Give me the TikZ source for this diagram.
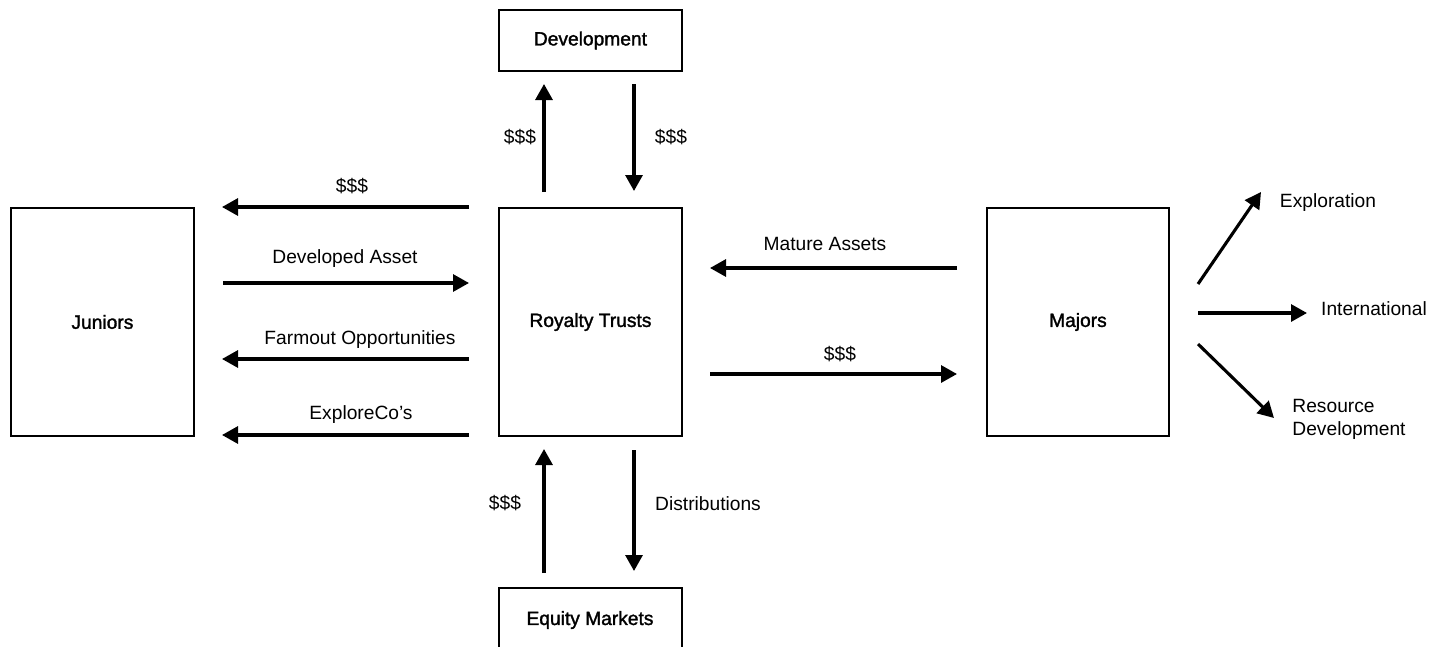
\documentclass[tikz,border=0pt]{standalone}
\usepackage{fontspec}
\setmainfont{Liberation Sans}
\newfontface\boxfont{Liberation Sans}[FakeBold=1.6]
\usetikzlibrary{arrows.meta}
\begin{document}
\begin{tikzpicture}[x=1pt,y=-1pt,
  font=\fontsize{19.2}{23}\selectfont,
  box/.style={draw,line width=1.9pt,inner sep=0pt,anchor=north west},
  blabel/.style={font=\boxfont\fontsize{19.2}{23}\selectfont},
  arr/.style={line width=3.1pt,-{Triangle[length=16pt,width=17pt]}},
  lbl/.style={inner sep=0pt}]
\clip (0,0) rectangle (1432,646);
\useasboundingbox (0,0) rectangle (1432,646);
% boxes
\node[box,minimum width=183pt,minimum height=228pt] (jun) at (10,207) {};
\node[blabel] at (jun.center) {Juniors};
\node[box,minimum width=183pt,minimum height=228pt] (rt) at (498,207) {};
\node[blabel] at (rt.center) {Royalty Trusts};
\node[box,minimum width=182pt,minimum height=228pt] (maj) at (986,207) {};
\node[blabel] at (maj.center) {Majors};
\node[box,minimum width=183pt,minimum height=61pt] (dev) at (498,9) {};
\node[blabel] at (dev.center) {Development};
\node[box,minimum width=183pt,minimum height=80pt] (eq) at (498,587) {};
\node[blabel] at (590,620) {Equity Markets};
% coordinates
\coordinate (u1s) at (544,192); \coordinate (u1e) at (544,84);
\coordinate (d1s) at (634,84);  \coordinate (d1e) at (634,191);
\coordinate (u2s) at (544,573); \coordinate (u2e) at (544,449);
\coordinate (d2s) at (634,450); \coordinate (d2e) at (634,571);
\coordinate (l1s) at (469,207); \coordinate (l1e) at (222,207);
\coordinate (l2s) at (223,283); \coordinate (l2e) at (469,283);
\coordinate (l3s) at (469,359); \coordinate (l3e) at (222,359);
\coordinate (l4s) at (469,435); \coordinate (l4e) at (222,435);
\coordinate (r1s) at (957,268); \coordinate (r1e) at (710,268);
\coordinate (r2s) at (710,374); \coordinate (r2e) at (957,374);
\coordinate (m1s) at (1198,284); \coordinate (m1e) at (1261,192);
\coordinate (m2s) at (1198,313); \coordinate (m2e) at (1307,313);
\coordinate (m3s) at (1198,344); \coordinate (m3e) at (1274,418);
% arrows
\draw[arr] (u1s) -- (u1e);
\draw[arr] (d1s) -- (d1e);
\draw[arr] (u2s) -- (u2e);
\draw[arr] (d2s) -- (d2e);
\draw[arr] (l1s) -- (l1e);
\draw[arr] (l2s) -- (l2e);
\draw[arr] (l3s) -- (l3e);
\draw[arr] (l4s) -- (l4e);
\draw[arr] (r1s) -- (r1e);
\draw[arr] (r2s) -- (r2e);
\draw[arr] (m1s) -- (m1e);
\draw[arr] (m2s) -- (m2e);
\draw[arr] (m3s) -- (m3e);
% labels
\node[lbl] (t1) at (520,137) {\$\$\$};
\node[lbl] (t2) at (671,137) {\$\$\$};
\node[lbl] (t3) at (352,186) {\$\$\$};
\node[lbl] (t4) at (345,259) {Developed Asset};
\node[lbl] (t5) at (360,340) {Farmout Opportunities};
\node[lbl] (t6) at (361,415) {ExploreCo’s};
\node[lbl] (t7) at (825,244) {Mature Assets};
\node[lbl] (t8) at (840,354) {\$\$\$};
\node[lbl] (t9) at (505,503) {\$\$\$};
\node[lbl] (t10) at (708,504) {Distributions};
\node[lbl] (t11) at (1328,203) {Exploration};
\node[lbl] (t12) at (1374,309) {International};
\node[lbl,align=left] (t13) at (1349,419) {Resource\\Development};
\end{tikzpicture}
\end{document}
